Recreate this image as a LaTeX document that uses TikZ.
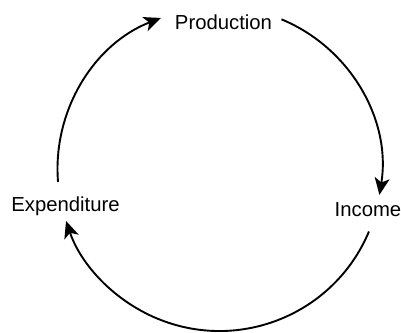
\documentclass[tikz,border=0pt]{standalone}
\usepackage{fontspec}
\setmainfont{Liberation Sans}
\usetikzlibrary{arrows.meta}
\begin{document}
\begin{tikzpicture}[x=1pt,y=1pt,
  label/.style={font=\fontsize{20.3}{23}\selectfont, inner sep=0pt, anchor=base},
  flow/.style={line width=1.9pt, -{Stealth[length=17pt,width=15pt,inset=4.5pt]}}]
  \useasboundingbox (0,0) rectangle (401,332);
  \def\R{162}
  \coordinate (c) at (219.5,163);
  % stage labels
  \node[label] (prod) at (223.5,302) {Production};
  \node[label] (inc)  at (368,115) {Income};
  \node[label] (exp)  at (65.5,121) {Expenditure};
  % circular flow, clockwise
  \draw[flow] ([shift={(67.5:\R)}]c) arc[start angle=67.5, end angle=-9.2, radius=\R];
  \draw[flow] ([shift={(-22.7:\R)}]c) arc[start angle=-22.7, end angle=-161.3, radius=\R];
  \draw[flow] ([shift={(184.6:\R)}]c) arc[start angle=184.6, end angle=111.2, radius=\R];
\end{tikzpicture}
\end{document}
